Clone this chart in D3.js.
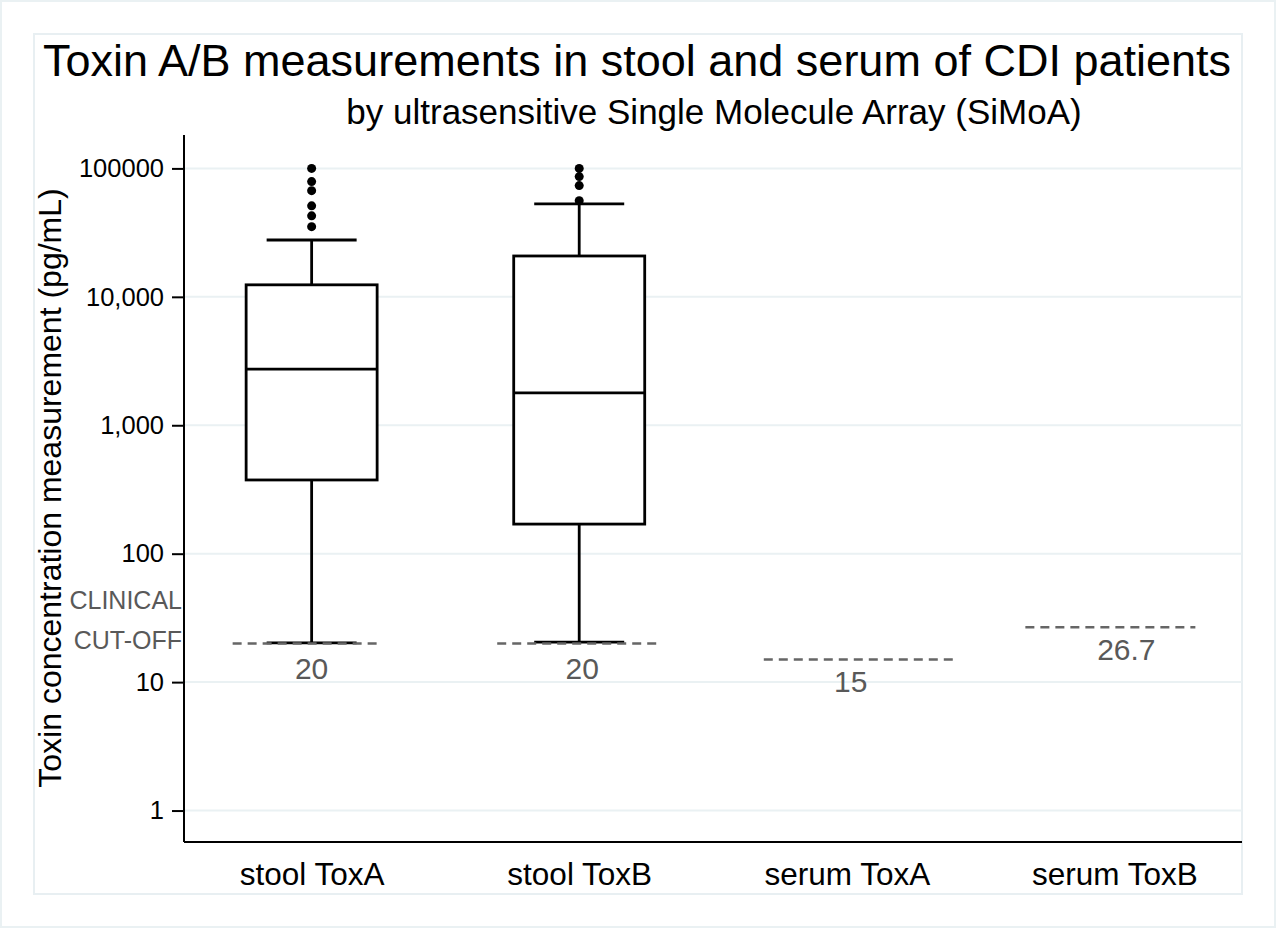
<!DOCTYPE html>
<html>
<head>
<meta charset="utf-8">
<script src="https://cdn.jsdelivr.net/npm/d3@7"></script>
<style>
  body { margin: 0; background: #fff; }
  text { font-family: "Liberation Sans", Arial, sans-serif; }
</style>
</head>
<body>
<div id="vis-container"></div>
<script>
// data
const groups = ["stool ToxA", "stool ToxB", "serum ToxA", "serum ToxB"];
const q1 = [375, 170, null, null];
const median = [2740, 1790, null, null];
const q3 = [12400, 20800, null, null];
const whiskLo = [20.2, 20.5, null, null];
const whiskHi = [27700, 52900, null, null];
const outliers = [
  [100000, 78900, 67100, 51100, 42700, 35200],
  [100000, 86300, 73500, 56100],
  [],
  []
];
const cutoffs = [20, 20, 15, 26.7];
const cutLabels = ["20", "20", "15", "26.7"];
const yTicks = [1, 10, 100, 1000, 10000, 100000];
const yTickLabels = ["1", "10", "100", "1,000", "10,000", "100000"];

const width = 1276;
const height = 928;
const margin = { top: 135, right: 34, bottom: 86, left: 184 };

// dashed cut-off line extents relative to category centre
const cutSpan = [[-79, 71], [-82, 80], [-83, 107], [-89, 81]];
const cutLabelDx = [0, 3, 4, 12];
const cutLabelDy = [36, 36, 32, 33];

const svg = d3.select("#vis-container")
  .append("svg")
  .attr("width", width)
  .attr("height", height);

// frames
svg.append("rect")
  .attr("x", 1).attr("y", 1)
  .attr("width", width - 2).attr("height", height - 2)
  .attr("fill", "#fff").attr("stroke", "#eaf1f3").attr("stroke-width", 2);
svg.append("rect")
  .attr("x", 34).attr("y", 34)
  .attr("width", 1208).attr("height", 860)
  .attr("fill", "none").attr("stroke", "#e8eff2").attr("stroke-width", 2);

const x = d3.scalePoint()
  .domain(groups)
  .range([margin.left, width - margin.right])
  .padding(0.477);

const y = d3.scaleLog()
  .domain([0.569, 182000])
  .range([height - margin.bottom, margin.top]);

// gridlines
svg.append("g")
  .selectAll("line")
  .data(yTicks)
  .enter()
  .append("line")
    .attr("x1", margin.left)
    .attr("x2", width - margin.right)
    .attr("y1", (d) => y(d))
    .attr("y2", (d) => y(d))
    .attr("stroke", "#eaf1f3")
    .attr("stroke-width", 2);

// y axis
svg.append("g")
  .attr("transform", `translate(${margin.left},0)`)
  .call(d3.axisLeft(y)
    .tickValues(yTicks)
    .tickFormat((d, i) => yTickLabels[i])
    .tickSize(12)
    .tickPadding(8))
  .call((g) => g.select(".domain").attr("d", `M0,${margin.top}V${height - margin.bottom}`).attr("stroke-width", 2))
  .call((g) => g.selectAll(".tick line").attr("stroke-width", 2))
  .call((g) => g.selectAll(".tick text")
    .attr("font-size", "25.5px")
    .attr("fill", "#000")
    .style("font-family", "'Liberation Sans', Arial, sans-serif"));

// x axis
svg.append("g")
  .attr("transform", `translate(0,${height - margin.bottom})`)
  .call(d3.axisBottom(x).tickSize(0).tickPadding(21))
  .call((g) => g.select(".domain").attr("d", `M${margin.left},0H${width - margin.right}`).attr("stroke-width", 2))
  .call((g) => g.selectAll(".tick text")
    .attr("font-size", "31.5px")
    .attr("fill", "#000")
    .style("font-family", "'Liberation Sans', Arial, sans-serif"));

// boxes
const boxW = 131;
const capW = 90;
const boxes = svg.append("g")
  .selectAll("g")
  .data(groups.map((g, i) => i).filter((i) => q1[i] !== null))
  .enter()
  .append("g")
    .attr("fill", "none")
    .attr("stroke", "#000")
    .attr("stroke-width", 2.8);

boxes.append("line")
  .attr("x1", (i) => x(groups[i])).attr("x2", (i) => x(groups[i]))
  .attr("y1", (i) => y(q3[i])).attr("y2", (i) => y(whiskHi[i]));
boxes.append("line")
  .attr("x1", (i) => x(groups[i])).attr("x2", (i) => x(groups[i]))
  .attr("y1", (i) => y(q1[i])).attr("y2", (i) => y(whiskLo[i]));
boxes.append("line")
  .attr("x1", (i) => x(groups[i]) - capW / 2).attr("x2", (i) => x(groups[i]) + capW / 2)
  .attr("y1", (i) => y(whiskHi[i])).attr("y2", (i) => y(whiskHi[i]));
boxes.append("line")
  .attr("x1", (i) => x(groups[i]) - capW / 2).attr("x2", (i) => x(groups[i]) + capW / 2)
  .attr("y1", (i) => y(whiskLo[i])).attr("y2", (i) => y(whiskLo[i]));
boxes.append("rect")
  .attr("x", (i) => x(groups[i]) - boxW / 2)
  .attr("width", boxW)
  .attr("y", (i) => y(q3[i]))
  .attr("height", (i) => y(q1[i]) - y(q3[i]))
  .attr("fill", "#fff");
boxes.append("line")
  .attr("x1", (i) => x(groups[i]) - boxW / 2).attr("x2", (i) => x(groups[i]) + boxW / 2)
  .attr("y1", (i) => y(median[i])).attr("y2", (i) => y(median[i]));

// outliers
svg.append("g")
  .selectAll("circle")
  .data(outliers.flatMap((vals, i) => vals.map((v) => ({ g: groups[i], v: v }))))
  .enter()
  .append("circle")
    .attr("cx", (d) => x(d.g))
    .attr("cy", (d) => y(d.v))
    .attr("r", 4.5)
    .attr("fill", "#000");

// clinical cut-off lines
svg.append("g")
  .selectAll("line")
  .data(cutoffs)
  .enter()
  .append("line")
    .attr("x1", (d, i) => x(groups[i]) + cutSpan[i][0])
    .attr("x2", (d, i) => x(groups[i]) + cutSpan[i][1])
    .attr("y1", (d) => y(d))
    .attr("y2", (d) => y(d))
    .attr("stroke", "#666")
    .attr("stroke-width", 2.5)
    .attr("stroke-dasharray", "9,6");

svg.append("g")
  .selectAll("text")
  .data(cutoffs)
  .enter()
  .append("text")
    .attr("x", (d, i) => x(groups[i]) + cutLabelDx[i])
    .attr("y", (d, i) => y(d) + cutLabelDy[i])
    .attr("text-anchor", "middle")
    .attr("font-size", "30px")
    .attr("fill", "#595959")
    .text((d, i) => cutLabels[i]);

svg.append("text")
  .attr("x", 182).attr("y", 609)
  .attr("text-anchor", "end")
  .attr("font-size", "25px")
  .attr("fill", "#595959")
  .text("CLINICAL");
svg.append("text")
  .attr("x", 182).attr("y", 649)
  .attr("text-anchor", "end")
  .attr("font-size", "25px")
  .attr("fill", "#595959")
  .text("CUT-OFF");

// titles
svg.append("text")
  .attr("x", 637).attr("y", 76)
  .attr("text-anchor", "middle")
  .attr("font-size", "45px")
  .attr("fill", "#000")
  .text("Toxin A/B measurements in stool and serum of CDI patients");
svg.append("text")
  .attr("x", 714).attr("y", 124)
  .attr("text-anchor", "middle")
  .attr("font-size", "35px")
  .attr("fill", "#000")
  .text("by ultrasensitive Single Molecule Array (SiMoA)");

svg.append("text")
  .attr("transform", "translate(61,488) rotate(-90)")
  .attr("text-anchor", "middle")
  .attr("font-size", "32px")
  .attr("fill", "#000")
  .text("Toxin concentration measurement (pg/mL)");
</script>
</body>
</html>
